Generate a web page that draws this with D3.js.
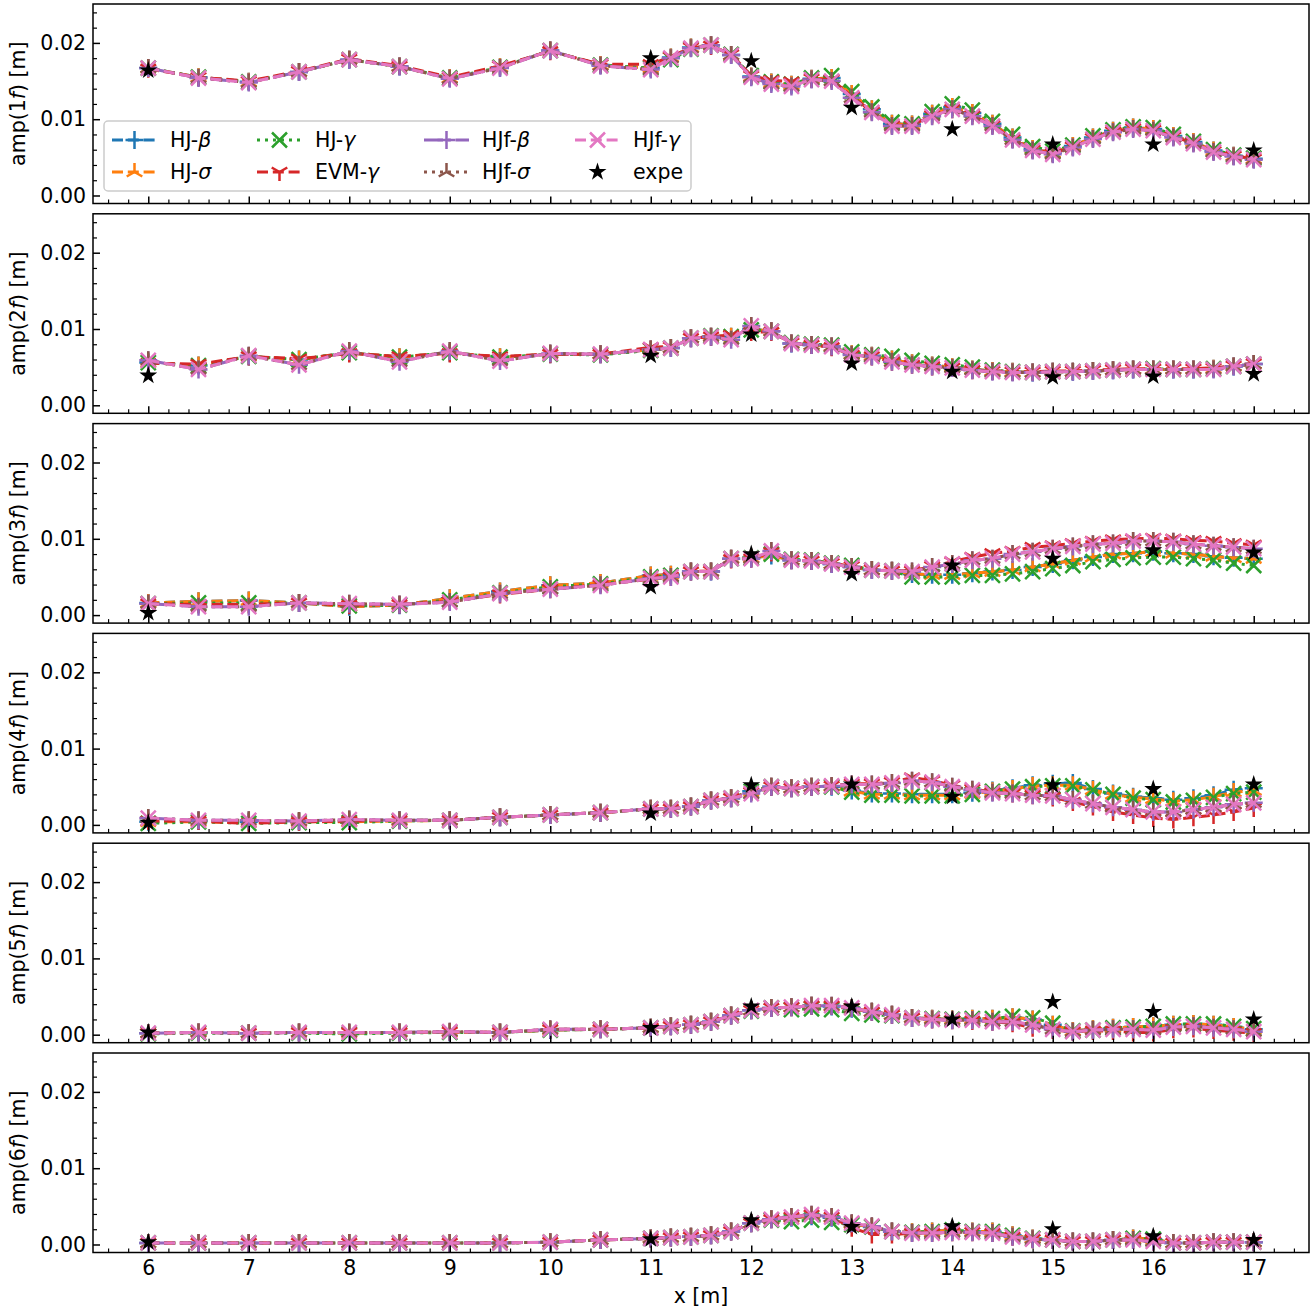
<!DOCTYPE html>
<html><head><meta charset="utf-8">
<script src="https://cdn.jsdelivr.net/npm/d3@7"></script>
<style>body{margin:0;background:#fff}text{font-family:"DejaVu Sans",sans-serif}</style>
</head><body><div id="chart"></div>
<script>
// ---------- data ----------
const xs = [6,6.5,7,7.5,8,8.5,9,9.5,10,10.5,11,11.2,11.4,11.6,11.8,12,12.2,12.4,12.6,12.8,13,13.2,13.4,13.6,13.8,14,14.2,14.4,14.6,14.8,15,15.2,15.4,15.6,15.8,16,16.2,16.4,16.6,16.8,17];
const expeX = [6,11,12,13,14,15,16,17];
const xTicks = [6,7,8,9,10,11,12,13,14,15,16,17];
const yTicks = [0,0.01,0.02];
const panelLabels = ["1","2","3","4","5","6"];

const amp1_hj = [0.0167,0.0155,0.0149,0.0162,0.0178,0.0169,0.0154,0.0168,0.0190,0.0171,0.0167,0.0181,0.0194,0.0197,0.0184,0.0156,0.0148,0.0145,0.0153,0.0154,0.0133,0.0113,0.0094,0.0093,0.0107,0.0116,0.0108,0.0094,0.0076,0.0061,0.0056,0.0065,0.0076,0.0085,0.0089,0.0087,0.0078,0.0070,0.0059,0.0052,0.0048];
const amp1_hjGamma = [0.0167,0.0155,0.0149,0.0162,0.0178,0.0169,0.0154,0.0168,0.0190,0.0171,0.0167,0.0178,0.0192,0.0197,0.0185,0.0157,0.0149,0.0146,0.0154,0.0157,0.0136,0.0116,0.0096,0.0094,0.0110,0.0120,0.0112,0.0097,0.0080,0.0064,0.0058,0.0066,0.0078,0.0086,0.0090,0.0089,0.0080,0.0071,0.0060,0.0053,0.0049];
const amp1_evm = [0.0166,0.0155,0.0150,0.0163,0.0179,0.0170,0.0155,0.0170,0.0189,0.0172,0.0172,0.0182,0.0194,0.0196,0.0185,0.0157,0.0151,0.0149,0.0153,0.0152,0.0130,0.0110,0.0092,0.0092,0.0105,0.0113,0.0105,0.0092,0.0074,0.0060,0.0055,0.0064,0.0075,0.0084,0.0088,0.0086,0.0077,0.0069,0.0058,0.0052,0.0048];
const amp1_hjf = [0.0167,0.0154,0.0148,0.0162,0.0178,0.0169,0.0153,0.0167,0.0190,0.0170,0.0165,0.0180,0.0193,0.0197,0.0184,0.0155,0.0146,0.0143,0.0152,0.0150,0.0128,0.0109,0.0091,0.0091,0.0104,0.0113,0.0104,0.0091,0.0073,0.0059,0.0054,0.0063,0.0074,0.0083,0.0087,0.0085,0.0076,0.0068,0.0057,0.0051,0.0047];
const expe1 = [0.0164,0.0180,0.0176,0.0115,0.0087,0.0067,0.0067,0.0059];

const amp2_hj = [0.0056,0.0052,0.0064,0.0060,0.0069,0.0063,0.0069,0.0063,0.0067,0.0067,0.0073,0.0075,0.0088,0.0090,0.0090,0.0100,0.0097,0.0081,0.0079,0.0077,0.0067,0.0065,0.0060,0.0055,0.0052,0.0050,0.0047,0.0045,0.0044,0.0043,0.0044,0.0044,0.0045,0.0046,0.0047,0.0047,0.0047,0.0047,0.0048,0.0051,0.0054];
const amp2_hjGamma = [0.0056,0.0052,0.0064,0.0060,0.0069,0.0063,0.0069,0.0063,0.0067,0.0066,0.0072,0.0075,0.0088,0.0091,0.0090,0.0099,0.0097,0.0082,0.0080,0.0079,0.0070,0.0066,0.0064,0.0059,0.0055,0.0053,0.0050,0.0046,0.0044,0.0043,0.0044,0.0044,0.0045,0.0046,0.0047,0.0048,0.0047,0.0047,0.0048,0.0051,0.0054];
const amp2_evm = [0.0055,0.0054,0.0064,0.0061,0.0068,0.0064,0.0068,0.0064,0.0067,0.0067,0.0076,0.0077,0.0088,0.0090,0.0092,0.0096,0.0096,0.0082,0.0079,0.0076,0.0066,0.0064,0.0057,0.0053,0.0051,0.0049,0.0046,0.0045,0.0044,0.0044,0.0045,0.0045,0.0046,0.0047,0.0048,0.0048,0.0048,0.0048,0.0049,0.0052,0.0055];
const amp2_hjf = [0.0059,0.0047,0.0065,0.0053,0.0071,0.0057,0.0071,0.0058,0.0068,0.0067,0.0073,0.0075,0.0088,0.0090,0.0086,0.0104,0.0097,0.0081,0.0079,0.0077,0.0066,0.0064,0.0057,0.0053,0.0051,0.0049,0.0046,0.0044,0.0043,0.0043,0.0044,0.0044,0.0045,0.0046,0.0047,0.0047,0.0047,0.0047,0.0047,0.0051,0.0054];
const expe2 = [0.0039,0.0065,0.0093,0.0055,0.0044,0.0037,0.0038,0.0041];

const amp3_hj = [0.0016,0.0018,0.0019,0.0016,0.0011,0.0013,0.0022,0.0031,0.0039,0.0042,0.0052,0.0053,0.0057,0.0057,0.0074,0.0075,0.0078,0.0072,0.0071,0.0067,0.0063,0.0059,0.0058,0.0054,0.0053,0.0053,0.0055,0.0057,0.0059,0.0063,0.0067,0.0072,0.0076,0.0080,0.0081,0.0083,0.0081,0.0080,0.0077,0.0075,0.0074];
const amp3_hjGamma = [0.0015,0.0016,0.0016,0.0016,0.0012,0.0013,0.0020,0.0029,0.0037,0.0041,0.0050,0.0052,0.0057,0.0057,0.0074,0.0075,0.0080,0.0073,0.0072,0.0068,0.0065,0.0059,0.0058,0.0050,0.0050,0.0050,0.0052,0.0052,0.0054,0.0057,0.0061,0.0065,0.0070,0.0073,0.0075,0.0076,0.0076,0.0074,0.0072,0.0068,0.0065];
const amp3_evm = [0.0015,0.0014,0.0014,0.0016,0.0013,0.0014,0.0018,0.0027,0.0034,0.0040,0.0047,0.0050,0.0057,0.0058,0.0073,0.0074,0.0082,0.0072,0.0071,0.0068,0.0064,0.0060,0.0058,0.0058,0.0064,0.0070,0.0076,0.0081,0.0084,0.0089,0.0091,0.0094,0.0097,0.0099,0.0100,0.0101,0.0100,0.0098,0.0097,0.0094,0.0092];
const amp3_hjf = [0.0015,0.0011,0.0011,0.0016,0.0015,0.0014,0.0017,0.0028,0.0034,0.0039,0.0048,0.0050,0.0057,0.0057,0.0074,0.0074,0.0084,0.0072,0.0071,0.0067,0.0063,0.0059,0.0058,0.0057,0.0063,0.0067,0.0072,0.0074,0.0080,0.0083,0.0087,0.0090,0.0093,0.0094,0.0097,0.0097,0.0096,0.0093,0.0091,0.0089,0.0087];
const expe3 = [0.0003,0.0037,0.0080,0.0054,0.0065,0.0074,0.0085,0.0082];

const amp4_hj = [0.0004,0.0005,0.0004,0.0004,0.0005,0.0006,0.0006,0.0010,0.0013,0.0016,0.0021,0.0021,0.0024,0.0032,0.0035,0.0044,0.0050,0.0048,0.0050,0.0050,0.0045,0.0041,0.0041,0.0040,0.0040,0.0040,0.0042,0.0045,0.0048,0.0052,0.0054,0.0055,0.0047,0.0041,0.0037,0.0035,0.0033,0.0035,0.0039,0.0046,0.0048];
const amp4_hjSigma = [0.0004,0.0004,0.0003,0.0004,0.0004,0.0005,0.0006,0.0010,0.0013,0.0016,0.0021,0.0021,0.0024,0.0032,0.0035,0.0044,0.0050,0.0048,0.0050,0.0050,0.0044,0.0040,0.0040,0.0039,0.0039,0.0039,0.0041,0.0044,0.0047,0.0051,0.0052,0.0052,0.0046,0.0040,0.0036,0.0034,0.0031,0.0033,0.0037,0.0043,0.0045];
const amp4_hjGamma = [0.0002,0.0004,0.0002,0.0003,0.0003,0.0005,0.0006,0.0010,0.0013,0.0016,0.0021,0.0021,0.0024,0.0032,0.0035,0.0044,0.0050,0.0048,0.0050,0.0050,0.0043,0.0039,0.0039,0.0038,0.0038,0.0038,0.0040,0.0044,0.0047,0.0050,0.0051,0.0051,0.0046,0.0040,0.0035,0.0033,0.0030,0.0032,0.0036,0.0041,0.0043];
const amp4_evm = [0.0005,0.0005,0.0002,0.0004,0.0005,0.0006,0.0006,0.0010,0.0013,0.0016,0.0021,0.0021,0.0024,0.0032,0.0035,0.0043,0.0050,0.0048,0.0050,0.0051,0.0054,0.0054,0.0056,0.0062,0.0058,0.0052,0.0047,0.0043,0.0041,0.0039,0.0036,0.0030,0.0024,0.0017,0.0013,0.0009,0.0007,0.0010,0.0013,0.0017,0.0022];
const amp4_hjf = [0.0009,0.0006,0.0006,0.0005,0.0007,0.0006,0.0006,0.0010,0.0013,0.0016,0.0021,0.0021,0.0024,0.0032,0.0035,0.0041,0.0050,0.0048,0.0050,0.0051,0.0053,0.0053,0.0055,0.0058,0.0056,0.0050,0.0046,0.0042,0.0041,0.0039,0.0038,0.0033,0.0028,0.0023,0.0020,0.0017,0.0017,0.0020,0.0023,0.0027,0.0029];
const expe4 = [0.0003,0.0015,0.0052,0.0053,0.0037,0.0052,0.0047,0.0053];

const amp5_hj = [0.0002,0.0003,0.0002,0.0003,0.0002,0.0003,0.0003,0.0003,0.0006,0.0007,0.0009,0.0011,0.0013,0.0017,0.0025,0.0032,0.0035,0.0036,0.0038,0.0037,0.0034,0.0030,0.0026,0.0022,0.0021,0.0020,0.0021,0.0021,0.0023,0.0020,0.0013,0.0005,0.0007,0.0009,0.0010,0.0011,0.0013,0.0014,0.0013,0.0010,0.0007];
const amp5_hjGamma = [0.0001,0.0002,0.0002,0.0002,0.0001,0.0002,0.0003,0.0003,0.0006,0.0007,0.0009,0.0011,0.0013,0.0017,0.0025,0.0031,0.0035,0.0033,0.0034,0.0033,0.0028,0.0026,0.0025,0.0022,0.0021,0.0020,0.0021,0.0021,0.0024,0.0022,0.0015,0.0005,0.0006,0.0009,0.0010,0.0011,0.0014,0.0014,0.0014,0.0011,0.0008];
const amp5_evm = [0.0002,0.0003,0.0002,0.0003,0.0003,0.0003,0.0004,0.0003,0.0007,0.0007,0.0009,0.0011,0.0013,0.0017,0.0025,0.0032,0.0035,0.0036,0.0038,0.0038,0.0035,0.0030,0.0026,0.0022,0.0020,0.0019,0.0018,0.0017,0.0015,0.0009,0.0006,0.0004,0.0005,0.0005,0.0003,0.0003,0.0007,0.0008,0.0006,0.0004,0.0002];
const amp5_hjf = [0.0002,0.0003,0.0002,0.0003,0.0003,0.0003,0.0004,0.0003,0.0007,0.0007,0.0009,0.0011,0.0013,0.0017,0.0025,0.0032,0.0035,0.0036,0.0038,0.0038,0.0035,0.0030,0.0026,0.0022,0.0020,0.0019,0.0019,0.0017,0.0017,0.0013,0.0007,0.0004,0.0006,0.0007,0.0007,0.0006,0.0010,0.0011,0.0009,0.0007,0.0004];
const expe5 = [0.0003,0.0009,0.0037,0.0037,0.0020,0.0043,0.0030,0.0020];

const amp6_hj = [0.0002,0.0002,0.0002,0.0002,0.0002,0.0002,0.0002,0.0002,0.0003,0.0006,0.0008,0.0009,0.0010,0.0012,0.0017,0.0028,0.0033,0.0035,0.0037,0.0035,0.0027,0.0023,0.0017,0.0016,0.0017,0.0019,0.0017,0.0017,0.0012,0.0008,0.0006,0.0004,0.0004,0.0006,0.0008,0.0007,0.0002,0.0002,0.0003,0.0003,0.0003];
const amp6_hjGamma = [0.0002,0.0002,0.0002,0.0002,0.0002,0.0002,0.0002,0.0002,0.0003,0.0006,0.0008,0.0009,0.0010,0.0012,0.0017,0.0028,0.0032,0.0030,0.0032,0.0029,0.0026,0.0023,0.0017,0.0016,0.0017,0.0019,0.0017,0.0017,0.0012,0.0008,0.0006,0.0004,0.0004,0.0006,0.0008,0.0007,0.0002,0.0002,0.0003,0.0003,0.0003];
const amp6_evm = [0.0002,0.0002,0.0002,0.0002,0.0002,0.0002,0.0002,0.0002,0.0003,0.0006,0.0008,0.0009,0.0010,0.0012,0.0017,0.0028,0.0033,0.0036,0.0039,0.0036,0.0022,0.0013,0.0013,0.0015,0.0015,0.0016,0.0016,0.0015,0.0010,0.0007,0.0006,0.0004,0.0004,0.0006,0.0006,0.0004,0.0002,0.0002,0.0003,0.0003,0.0003];
const amp6_hjf = [0.0002,0.0002,0.0002,0.0002,0.0002,0.0002,0.0002,0.0002,0.0003,0.0006,0.0008,0.0009,0.0010,0.0012,0.0017,0.0028,0.0033,0.0036,0.0039,0.0036,0.0028,0.0024,0.0017,0.0015,0.0015,0.0016,0.0016,0.0015,0.0010,0.0007,0.0006,0.0004,0.0004,0.0006,0.0006,0.0004,0.0002,0.0002,0.0003,0.0003,0.0003];
const expe6 = [0.0003,0.0007,0.0032,0.0023,0.0024,0.0020,0.0011,0.0006];

const seriesNames = ["HJ-β","HJ-σ","HJ-γ","EVM-γ","HJf-β","HJf-σ","HJf-γ"];
// per panel, per series (order of seriesNames)
const panelSeries = [
  [amp1_hj, amp1_hj, amp1_hjGamma, amp1_evm, amp1_hjf, amp1_hjf, amp1_hjf],
  [amp2_hj, amp2_hj, amp2_hjGamma, amp2_evm, amp2_hjf, amp2_hjf, amp2_hjf],
  [amp3_hj, amp3_hj, amp3_hjGamma, amp3_evm, amp3_hjf, amp3_hjf, amp3_hjf],
  [amp4_hj, amp4_hjSigma, amp4_hjGamma, amp4_evm, amp4_hjf, amp4_hjf, amp4_hjf],
  [amp5_hj, amp5_hj, amp5_hjGamma, amp5_evm, amp5_hjf, amp5_hjf, amp5_hjf],
  [amp6_hj, amp6_hj, amp6_hjGamma, amp6_evm, amp6_hjf, amp6_hjf, amp6_hjf]
];
const panelExpe = [expe1, expe2, expe3, expe4, expe5, expe6];

// ---------- styles ----------
const colors = ["#1f77b4","#ff7f0e","#2ca02c","#d62728","#9467bd","#8c564b","#e377c2"];
const LW = 3;
const dashes = ["11,4.8","11,4.8","3,5","11,4.8","19,4.8,3,4.8","3,5","11,4.8"];
const markers = ["plus","triUp","x","triDown","plus","triUp","x"];
const FS = 20.5;

function markerPath(type, s){
  const h = s/2;
  if(type==="plus") return `M${-h},0H${h}M0,${-h}V${h}`;
  if(type==="x") return `M${-h},${-h}L${h},${h}M${-h},${h}L${h},${-h}`;
  if(type==="triDown") return `M0,0V${h}M0,0L${-h*0.866},${-h/2}M0,0L${h*0.866},${-h/2}`;
  if(type==="triUp") return `M0,0V${-h}M0,0L${-h*0.866},${h/2}M0,0L${h*0.866},${h/2}`;
  return "";
}
function mSize(t){ return t==="x" ? 15 : 18; }
const starPath = d3.symbol().type(d3.symbolStar).size(100)();

// ---------- layout ----------
const W = 1315, H = 1313;
const left = 93, right = 1309;
const panelTop0 = 4, panelStep = 209.8, panelH = 199.5;

const svg = d3.select("#chart").append("svg").attr("width", W).attr("height", H);
svg.append("rect").attr("width",W).attr("height",H).attr("fill","#fff");

const x = d3.scaleLinear().domain([5.45, 17.55]).range([left, right]);
const minorX = d3.range(5.6, 17.55, 0.2).map(v=>+v.toFixed(1)).filter(v=>Math.abs(v-Math.round(v))>1e-6);
const minorY = d3.range(-0.0, 0.0251, 0.002).map(v=>+v.toFixed(3)).filter(v=>Math.abs(v*100-Math.round(v*100))>1e-6);

panelSeries.forEach((series, p) => {
  const top = panelTop0 + p*panelStep;
  const y = d3.scaleLinear().domain([-0.00105, 0.0251]).range([top+panelH, top]);
  const g = svg.append("g");
  const clipId = "clip"+p;
  svg.append("clipPath").attr("id",clipId).append("rect").attr("x",left).attr("y",top).attr("width",right-left).attr("height",panelH);
  const plot = g.append("g").attr("clip-path",`url(#${clipId})`);

  const line = d3.line().x((d,i)=>x(xs[i])).y(d=>y(d));
  series.forEach((vals, si) => {
    const sg = plot.append("g");
    sg.append("path").attr("d", line(vals)).attr("fill","none")
      .attr("stroke", colors[si]).attr("stroke-width", LW)
      .attr("stroke-dasharray", dashes[si]).attr("stroke-linecap","butt");
    sg.selectAll("path.m").data(vals).join("path").attr("class","m")
      .attr("transform",(d,i)=>`translate(${x(xs[i])},${y(d)})`)
      .attr("d", markerPath(markers[si], mSize(markers[si])))
      .attr("fill","none").attr("stroke", colors[si]).attr("stroke-width", 2.5);
  });
  plot.selectAll("path.star").data(panelExpe[p]).join("path").attr("class","star")
    .attr("transform",(d,i)=>`translate(${x(expeX[i])},${y(d)})`)
    .attr("d", starPath).attr("fill","#000");

  // axes
  const ax = g.append("g").attr("transform",`translate(0,${top+panelH})`)
    .call(d3.axisBottom(x).tickValues(xTicks).tickSize(-7).tickPadding(8)
      .tickFormat(p===5 ? d3.format("d") : ""));
  ax.select(".domain").remove();
  ax.selectAll("line").attr("stroke","#000").attr("stroke-width",1.5);
  ax.selectAll("text").attr("font-size",FS).attr("fill","#000").attr("font-family","DejaVu Sans");
  const axm = g.append("g").attr("transform",`translate(0,${top+panelH})`)
    .call(d3.axisBottom(x).tickValues(minorX).tickSize(-4).tickFormat(""));
  axm.select(".domain").remove();
  axm.selectAll("line").attr("stroke","#000").attr("stroke-width",1.2);

  const ay = g.append("g").attr("transform",`translate(${left},0)`)
    .call(d3.axisLeft(y).tickValues(yTicks).tickSize(-7).tickPadding(7).tickFormat(d3.format(".2f")));
  ay.select(".domain").remove();
  ay.selectAll("line").attr("stroke","#000").attr("stroke-width",1.5);
  ay.selectAll("text").attr("font-size",FS).attr("fill","#000").attr("font-family","DejaVu Sans");
  const aym = g.append("g").attr("transform",`translate(${left},0)`)
    .call(d3.axisLeft(y).tickValues(minorY).tickSize(-4).tickFormat(""));
  aym.select(".domain").remove();
  aym.selectAll("line").attr("stroke","#000").attr("stroke-width",1.2);

  // frame
  g.append("rect").attr("x",left).attr("y",top).attr("width",right-left).attr("height",panelH)
    .attr("fill","none").attr("stroke","#000").attr("stroke-width",1.5);

  // y label
  const yl = g.append("text").attr("transform",`translate(25,${top+panelH/2}) rotate(-90)`)
    .attr("text-anchor","middle").attr("font-size",FS).attr("fill","#000");
  yl.append("tspan").text(`amp(${panelLabels[p]}`);
  yl.append("tspan").attr("font-style","italic").text("f");
  yl.append("tspan").text(") [m]");

  // legend in first panel
  if(p===0){
    const lg = g.append("g");
    lg.append("rect").attr("x",104).attr("y",121).attr("width",587).attr("height",70).attr("rx",4)
      .attr("fill","#fff").attr("fill-opacity",0.8).attr("stroke","#cccccc").attr("stroke-width",1.5);
    const textX = [170,315,482,633];
    const rowY = [140,172];
    const items = seriesNames.map((n,i)=>({name:n, i})).concat([{name:"expe", i:7}]);
    items.forEach((it, k) => {
      const col = Math.floor(k/2), row = k%2;
      const tx = textX[col], ty = rowY[row];
      const x0 = tx-58, x1 = tx-13, xm = (x0+x1)/2;
      if(it.i<7){
        lg.append("line").attr("x1",x0).attr("x2",x1).attr("y1",ty).attr("y2",ty)
          .attr("stroke",colors[it.i]).attr("stroke-width",LW).attr("stroke-dasharray",dashes[it.i]);
        lg.append("path").attr("transform",`translate(${xm},${ty})`)
          .attr("d", markerPath(markers[it.i], mSize(markers[it.i])))
          .attr("fill","none").attr("stroke",colors[it.i]).attr("stroke-width",2.5);
      } else {
        lg.append("path").attr("transform",`translate(${xm},${ty})`).attr("d",starPath).attr("fill","#000");
      }
      const t = lg.append("text").attr("x",tx).attr("y",ty).attr("dy","0.35em").attr("font-size",FS).attr("fill","#000");
      const parts = it.name.split("-");
      if(parts.length===2){
        t.append("tspan").text(parts[0]+"-");
        t.append("tspan").attr("font-style","italic").text(parts[1]);
      } else t.text(it.name);
    });
  }
});

svg.append("text").attr("x",(left+right)/2).attr("y",1303).attr("text-anchor","middle")
  .attr("font-size",FS).attr("fill","#000").text("x [m]");
</script></body></html>
